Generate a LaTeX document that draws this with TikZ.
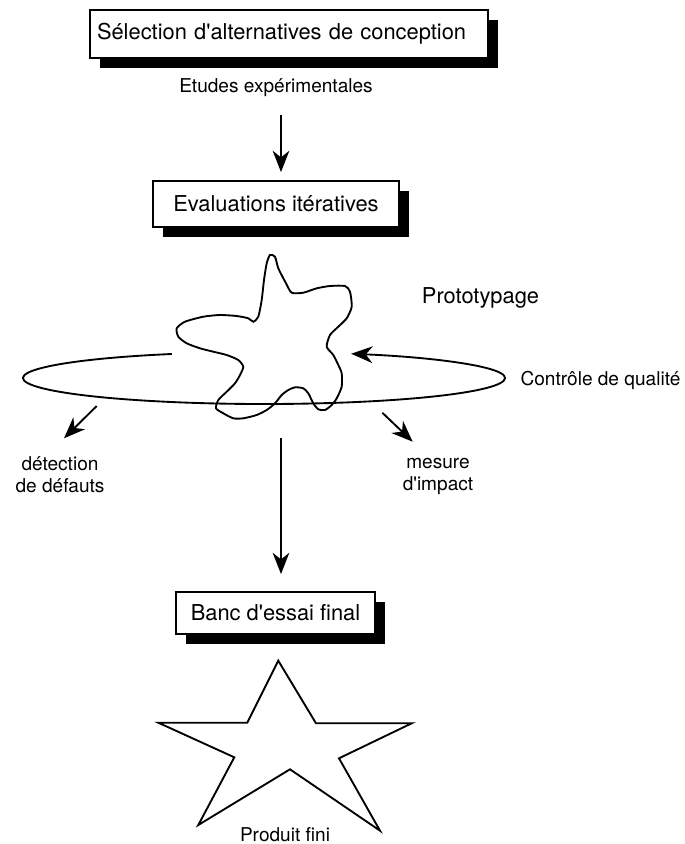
\documentclass[tikz,border=0pt]{standalone}
\usepackage{fontspec}
\setmainfont{TeX Gyre Heros}
\usetikzlibrary{arrows.meta,shadows}
\newcommand{\grand}{\fontsize{16.4}{19}\selectfont}
\newcommand{\petit}{\fontsize{14.3}{16.5}\selectfont}

\begin{document}
\begin{tikzpicture}[x=0.75pt,y=0.75pt,yscale=-1,xscale=1,
	boite/.style={draw, line width=1.4pt, fill=white, inner sep=0pt, font=\grand,
		drop shadow={shadow xshift=7.5pt, shadow yshift=-7.5pt, opacity=1, fill=black}},
	legende/.style={font=\petit, inner sep=0.75pt, align=center},
	fleche/.style={line width=1.4pt, -{Stealth[length=16pt,width=12.5pt,inset=5pt]}}]
	\useasboundingbox (0,0) rectangle (685,844);

	% Boites
	\node[boite, text width=288pt, align=left, inner xsep=5.25pt, minimum height=36pt] (selection) at (289,34) {Sélection d\textquotesingle alternatives de conception};
	\node[boite, minimum width=184.5pt, minimum height=34.5pt] (evaluations) at (276,204) {Evaluations itératives};
	\node[boite, minimum width=149.25pt, minimum height=31.5pt] (banc) at (275.5,613) {Banc d\textquotesingle essai final};

	% Text Node
	\node[legende, anchor=base] (etudes) at (276,92.3) {Etudes expérimentales};
	\node[legende, font=\grand, anchor=base] (proto) at (480.5,303.3) {Prototypage};
	\node[legende, anchor=base] (controle) at (600.5,385) {Contrôle de qualité};
	\node[legende, anchor=base] (detection) at (60,492.3) {détection\\de défauts};
	\node[legende, anchor=base] (mesure) at (438,490.3) {mesure\\d\textquotesingle impact};
	\node[legende, anchor=base] (produit) at (285,841) {Produit fini};

	% Prototype
	\draw[line width=1.4pt] plot[smooth cycle, tension=0.4] coordinates {(270,255) (275,256.7) (278.3,268.3) (286,283.3) (291.7,292.7) (303.3,292.7) (316.7,288.3) (330,286) (345,286) (350,291.7) (351.7,306.7) (346.7,318.3) (338.3,326.7) (330,335) (326.7,346.7) (333.3,355) (338.3,365) (341.7,373.3) (341.7,386.7) (336.7,398.3) (331.7,405) (325,410) (318.3,409.3) (313.3,403.3) (308.3,393.3) (303.3,388.3) (295,387.3) (288.3,390) (281.7,395) (275,403.3) (266.7,410) (256.7,415) (243.3,418.3) (233.3,418.3) (223.3,413.3) (216,408.3) (218.3,400) (226.7,391.7) (235,383.3) (240,375) (243.3,366.7) (238.3,360) (226.7,355) (213.3,351.7) (200,348.3) (186.7,343.3) (178.3,336.7) (176.7,328.3) (185,321.7) (203.3,316.7) (220,315) (236.7,316) (248.3,318.3) (253.3,321.7) (258.3,316.7) (261.7,300) (264,280) (266.7,263.3)};

	% Anneau
	\coordinate (anneau) at (264,378);
	\draw[fleche] (anneau) ++(-112.5:241 and 26) arc[start angle=-112.5, end angle=-428.8, x radius=241, y radius=26];

	% Fleches
	\coordinate (depart) at (281,115);
	\draw[fleche, shorten >=6pt] (depart) -- (depart |- evaluations.north);
	\coordinate (sortie) at (281,438);
	\draw[fleche, shorten >=12.75pt] (sortie) -- (sortie |- banc.north);
	\coordinate (gauche) at (96.7,406);
	\coordinate (gauchebout) at (64,438.3);
	\draw[fleche] (gauche) -- (gauchebout);
	\coordinate (droite) at (382.3,412.7);
	\coordinate (droitebout) at (412.7,441.7);
	\draw[fleche] (droite) -- (droitebout);

	% Etoile
	\draw[line width=1.4pt] (278.3,660.7) -- (316,723.3) -- (411.7,723.3) -- (339,758.3) -- (380,830.7) -- (290,769.3) -- (198.3,825) -- (234.3,757.3) -- (158.3,722.7) -- (247.3,722.7) -- cycle;
\end{tikzpicture}
\end{document}
